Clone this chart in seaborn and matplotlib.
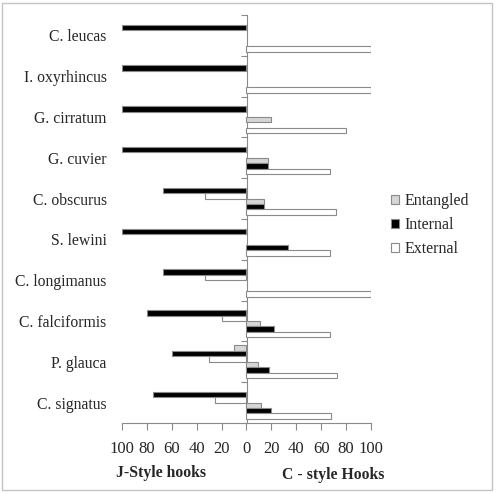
import matplotlib

matplotlib.use("Agg")

import matplotlib.pyplot as plt
import numpy as np
import pandas as pd
import seaborn as sns
from matplotlib.patches import Patch, Rectangle
from matplotlib.ticker import FuncFormatter

nan = np.nan

SPECIES = [
    "C. leucas",
    "I. oxyrhincus",
    "G. cirratum",
    "G. cuvier",
    "C. obscurus",
    "S. lewini",
    "C. longimanus",
    "C. falciformis",
    "P. glauca",
    "C. signatus",
]

# percentages, J-style hooks (drawn to the left)
J_ENTANGLED = [nan, nan, nan, nan, nan, nan, nan, nan, 10, nan]
J_INTERNAL = [100, 100, 100, 100, 67, 100, 67, 80, 60, 75]
J_EXTERNAL = [nan, nan, nan, nan, 33, nan, 33, 20, 30, 25]

# percentages, C-style hooks (drawn to the right)
C_ENTANGLED = [nan, nan, 20, 17, 14, nan, nan, 11, 9, 12]
C_INTERNAL = [nan, nan, nan, 17, 14, 33, nan, 22, 18, 20]
C_EXTERNAL = [100, 100, 80, 67, 72, 67, 100, 67, 73, 68]

HOOK_LABELS = ["Entangled", "Internal", "External"]
X_TICKS = [-100, -80, -60, -40, -20, 0, 20, 40, 60, 80, 100]

COLORS = {
    "Entangled": "#d6d6d6",
    "Internal": "#000000",
    "External": "#ffffff",
}
EDGE = "#8a8a8a"
TEXT = "#262626"

series = [
    ("J Entangled", -1, J_ENTANGLED),
    ("J Internal", -1, J_INTERNAL),
    ("J External", -1, J_EXTERNAL),
    ("C Entangled", 1, C_ENTANGLED),
    ("C Internal", 1, C_INTERNAL),
    ("C External", 1, C_EXTERNAL),
]

rows = []
for name, sign, vals in series:
    for sp, v in zip(SPECIES, vals):
        if not np.isnan(v):
            rows.append({"species": sp, "series": name, "value": sign * v})
df = pd.DataFrame(rows)

hue_order = [s[0] for s in series]
palette = {name: COLORS[name.split()[1]] for name in hue_order}

sns.set_style("white")
plt.rcParams["font.family"] = ["Liberation Serif", "DejaVu Serif"]
plt.rcParams["font.size"] = 11

fig = plt.figure(figsize=(4.97, 4.92), dpi=100)
ax = fig.add_axes([122 / 497, 1 - 423 / 492, 249 / 497, 408 / 492])

sns.barplot(
    data=df,
    x="value",
    y="species",
    hue="series",
    hue_order=hue_order,
    order=SPECIES,
    palette=palette,
    orient="h",
    errorbar=None,
    width=0.8,
    gap=0,
    saturation=1,
    edgecolor=EDGE,
    linewidth=0.8,
    legend=False,
    ax=ax,
)

ax.set_xlim(-100, 100)
ax.set_ylim(len(SPECIES) - 0.5, -0.5)
ax.set_xlabel("")
ax.set_ylabel("")

for side in ["top", "right", "left"]:
    ax.spines[side].set_visible(False)
ax.spines["bottom"].set_color(EDGE)
ax.spines["bottom"].set_linewidth(0.8)

ax.set_xticks(X_TICKS)
ax.xaxis.set_major_formatter(FuncFormatter(lambda v, _: f"{abs(v):.0f}"))
ax.tick_params(axis="x", direction="out", length=5, width=0.8, color=EDGE,
               pad=8, labelsize=12, labelcolor=TEXT, bottom=True)
ax.tick_params(axis="y", length=0, pad=11, labelsize=11.3, labelcolor=TEXT)

# vertical axis through zero with category separators
sec = ax.secondary_yaxis(0.5)
sec.spines["right"].set_color(EDGE)
sec.spines["right"].set_linewidth(0.8)
sec.set_yticks(np.arange(-0.5, len(SPECIES), 1))
sec.tick_params(direction="in", length=4, width=0.8, color=EDGE, labelright=False)

handles = [Patch(facecolor=COLORS[k], edgecolor=EDGE, linewidth=0.8) for k in HOOK_LABELS]
fig.legend(
    handles,
    HOOK_LABELS,
    loc="center left",
    bbox_to_anchor=(377 / 497, 1 - 225 / 492),
    frameon=False,
    handlelength=0.5,
    handleheight=0.5,
    handletextpad=0.35,
    labelspacing=0.5,
    fontsize=11.5,
    labelcolor=TEXT,
)

fig.text(116 / 497, 1 - 473 / 492, "J-Style hooks", fontsize=11.3,
         fontweight="bold", va="center", ha="left")
fig.text(282 / 497, 1 - 475 / 492, "C - style Hooks", fontsize=11.3,
         fontweight="bold", va="center", ha="left")

fig.patches.append(
    Rectangle((2 / 497, 2 / 492), 490 / 497, 487 / 492, transform=fig.transFigure,
              fill=False, edgecolor="#c4c4c4", linewidth=1)
)

fig.savefig("out.png", dpi=100)
